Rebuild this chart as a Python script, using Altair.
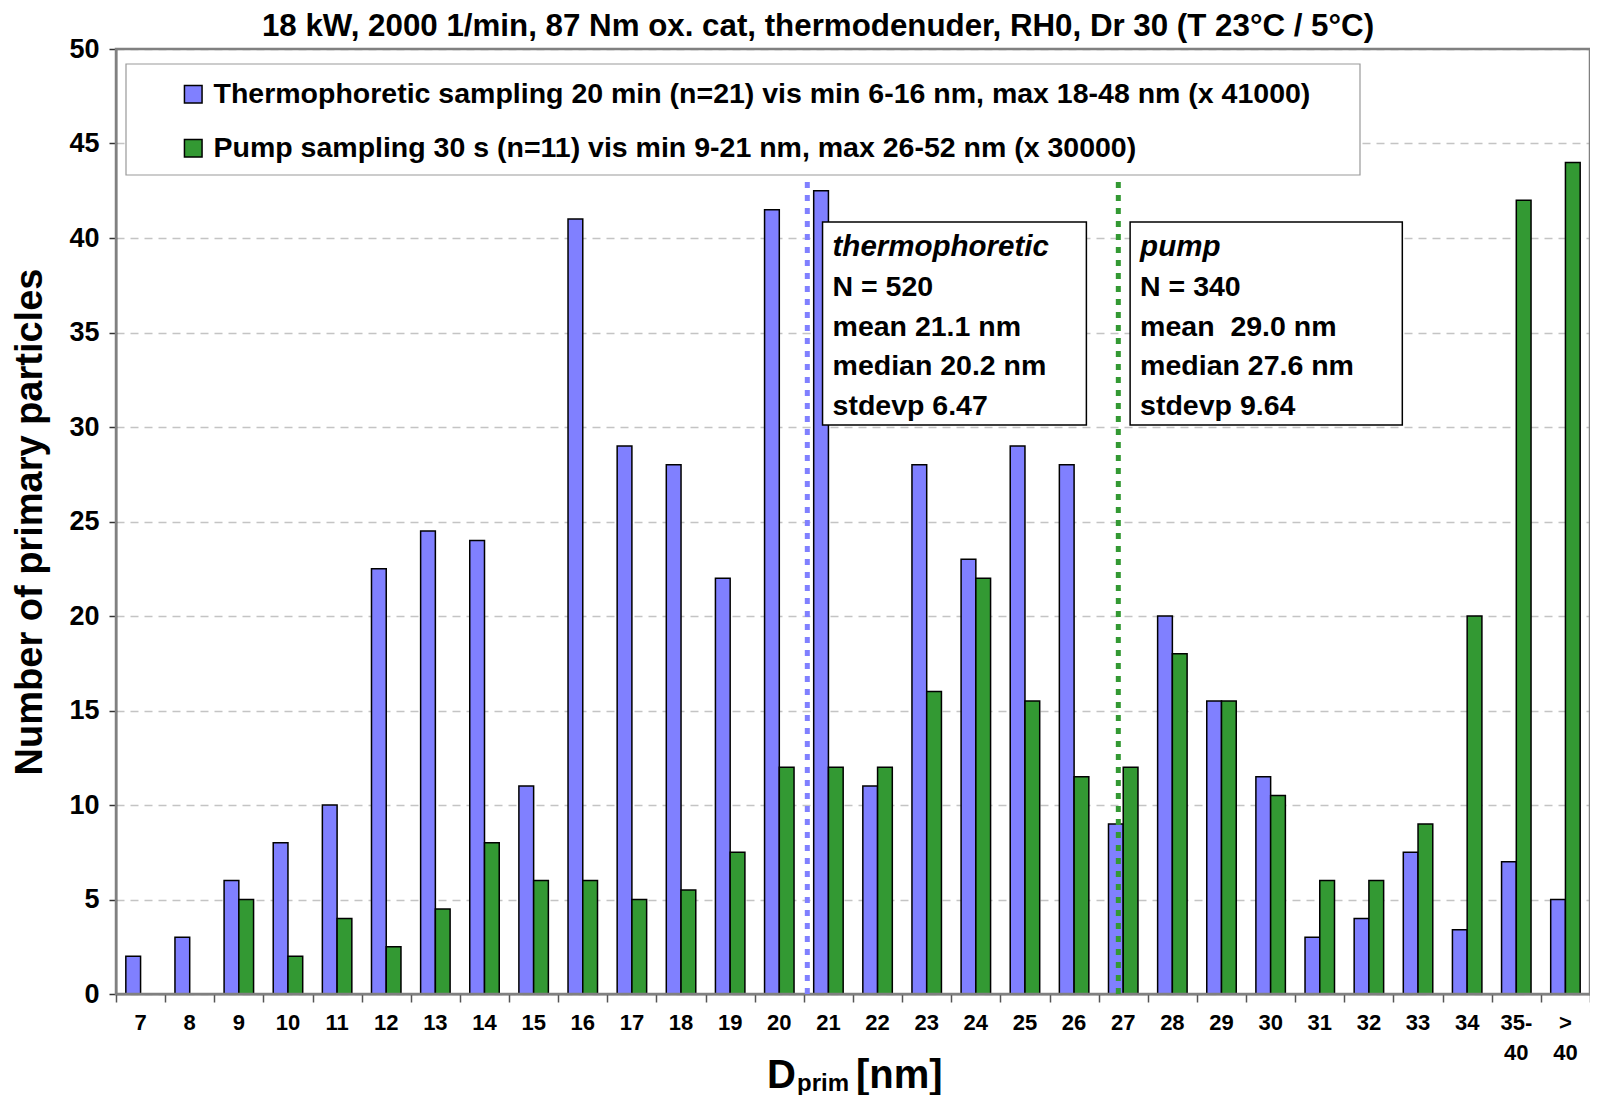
import altair as alt
import pandas as pd

# ---------------- data ----------------
categories = ['7', '8', '9', '10', '11', '12', '13', '14', '15', '16', '17', '18', '19', '20',
              '21', '22', '23', '24', '25', '26', '27', '28', '29', '30', '31', '32', '33', '34',
              '35-40', '>40']
thermo = [2, 3, 6, 8, 10, 22.5, 24.5, 24, 11, 41, 29, 28, 22, 41.5,
          42.5, 11, 28, 23, 29, 28, 9, 20, 15.5, 11.5, 3, 4, 7.5, 3.4,
          7, 5]
pump = [0, 0, 5, 2, 4, 2.5, 4.5, 8, 6, 6, 5, 5.5, 7.5, 12,
        12, 12, 16, 22, 15.5, 11.5, 12, 18, 15.5, 10.5, 6, 6, 9, 20,
        42, 44]
series_names = [
    "Thermophoretic sampling 20 min (n=21) vis min 6-16 nm, max 18-48 nm (x 41000)",
    "Pump sampling 30 s (n=11) vis min 9-21 nm, max 26-52 nm (x 30000)",
]
colors = ['#8080FF', '#339933']

# category edges on a continuous scale (category i spans [7+i, 8+i])
edge_ticks = list(range(7, 38))
line_pos = [21.07, 27.4]
line_top = [43, 43]
box_x = [21.38, 27.64]
box_x2 = [26.75, 33.18]
box_top = [40.85, 40.85]
box_bottom = [30.1, 30.1]
box_heads = ['thermophoretic', 'pump']
box_bodies = [['N = 520', 'mean 21.1 nm', 'median 20.2 nm', 'stdevp 6.47'],
              ['N = 340', 'mean\u00a0 29.0 nm', 'median 27.6 nm', 'stdevp 9.64']]

title_text = "18 kW, 2000 1/min, 87 Nm ox. cat, thermodenuder, RH0, Dr 30 (T 23\u00b0C / 5\u00b0C)"
y_title = "Number of primary particles"

FONT = 'Liberation Sans'
W, H = 1474, 945

rows = []
for i, c in enumerate(categories):
    rows.append({'cat': c, 'series': series_names[0], 'value': thermo[i]})
    rows.append({'cat': c, 'series': series_names[1], 'value': pump[i]})
df = pd.DataFrame(rows)

y_scale = alt.Scale(domain=[0, 50], nice=False, zero=True)
y_axis = alt.Axis(values=list(range(0, 51, 5)), title=y_title,
                  titleFont=FONT, titleFontSize=38, titleFontWeight='bold',
                  titleAngle=-90, titleX=-86, titleY=H / 2, titleBaseline='middle',
                  titleAlign='center', titleColor='black',
                  labelFont=FONT, labelFontSize=27, labelFontWeight='bold', labelColor='black',
                  labelPadding=10, tickSize=7, tickColor='#333333', tickWidth=1.5,
                  domainColor='black', domainWidth=1.5,
                  grid=True, gridDash=[8, 6], gridColor='#c4c4c4', gridWidth=1.5)

label_expr = ("datum.value == '35-40' ? ['35-', '40'] : "
              "(datum.value == '>40' ? ['>', '40'] : datum.label)")

bars = alt.Chart(df).transform_filter('datum.value > 0').mark_bar(
    stroke='black', strokeWidth=1.5
).encode(
    x=alt.X('cat:N', sort=categories,
            scale=alt.Scale(paddingInner=0, paddingOuter=0),
            axis=alt.Axis(title=None, ticks=False, domainColor='#808080', domainWidth=2,
                          labelFont=FONT, labelFontSize=22, labelFontWeight='bold',
                          labelColor='black', labelAngle=0, labelPadding=18,
                          labelLineHeight=30, labelExpr=label_expr, orient='bottom',
                          grid=False)),
    xOffset=alt.XOffset('series:N', sort=series_names,
                        scale=alt.Scale(domain=series_names, paddingOuter=0.6667, paddingInner=0)),
    y=alt.Y('value:Q', scale=y_scale, axis=y_axis),
    color=alt.Color('series:N', sort=series_names,
                    scale=alt.Scale(domain=series_names, range=colors),
                    legend=alt.Legend(orient='none', legendX=63, legendY=31, title=None,
                                      symbolType='square', symbolSize=310,
                                      symbolStrokeColor='black', symbolStrokeWidth=1.5,
                                      labelFont=FONT, labelFontSize=28.5, labelFontWeight='bold',
                                      labelColor='black', labelLimit=0, rowPadding=25,
                                      labelOffset=6, padding=0, direction='vertical')),
)

xq_scale = alt.Scale(domain=[7, 37], nice=False, zero=False)
xq_axis = alt.Axis(values=edge_ticks, labels=False, ticks=True, tickSize=8,
                   tickColor='#555555', tickWidth=1.5, domain=False, grid=False,
                   orient='bottom', title=None)

one = pd.DataFrame({'k': [0]})

frame = alt.Chart(one).mark_rect(fill='white', fillOpacity=0, stroke='#808080',
                                 strokeWidth=2.5).encode(
    x=alt.value(0), x2=alt.value(W), y=alt.value(0), y2=alt.value(H))

df_lines = pd.DataFrame({'pos': line_pos, 'value': [0, 0], 'top': line_top, 'col': colors})
rules = alt.Chart(df_lines).mark_rule(strokeWidth=5, strokeDash=[6, 7]).encode(
    x=alt.X('pos:Q', scale=xq_scale, axis=xq_axis),
    y=alt.Y('value:Q', scale=y_scale, axis=y_axis),
    y2='top:Q',
    stroke=alt.Stroke('col:N', scale=None),
)

df_box = pd.DataFrame({'pos': box_x, 'pos2': box_x2, 'value': box_bottom, 'top': box_top,
                       'head': box_heads, 'body': box_bodies})
boxes = alt.Chart(df_box).mark_rect(fill='white', stroke='black', strokeWidth=1.5).encode(
    x=alt.X('pos:Q', scale=xq_scale, axis=xq_axis),
    x2='pos2:Q',
    y=alt.Y('value:Q', scale=y_scale, axis=y_axis),
    y2='top:Q',
)
heads = alt.Chart(df_box).mark_text(align='left', baseline='middle', dx=10, dy=25,
                                    font=FONT, fontSize=29.5, fontWeight='bold',
                                    fontStyle='italic', color='black').encode(
    x=alt.X('pos:Q', scale=xq_scale, axis=xq_axis),
    y=alt.Y('top:Q', scale=y_scale, axis=y_axis),
    text='head:N',
)
bodies = alt.Chart(df_box).mark_text(align='left', baseline='middle', dx=10, dy=65,
                                     font=FONT, fontSize=28.5, fontWeight='bold',
                                     lineHeight=39.7, color='black').encode(
    x=alt.X('pos:Q', scale=xq_scale, axis=xq_axis),
    y=alt.Y('top:Q', scale=y_scale, axis=y_axis),
    text='body:N',
)

legend_box = alt.Chart(one).mark_rect(fill='white', stroke='#999999', strokeWidth=1.2).encode(
    x=alt.value(10), x2=alt.value(1244), y=alt.value(15), y2=alt.value(126))

title_mark = alt.Chart(one).mark_text(align='center', baseline='alphabetic', font=FONT,
                                      fontSize=31.3, fontWeight='bold', color='black',
                                      text=title_text).encode(
    x=alt.value(702), y=alt.value(-13))

xt_D = alt.Chart(one).mark_text(align='left', baseline='alphabetic', font=FONT, fontSize=40,
                                fontWeight='bold', color='black', text='D').encode(
    x=alt.value(651), y=alt.value(1039))
xt_sub = alt.Chart(one).mark_text(align='left', baseline='alphabetic', font=FONT, fontSize=24,
                                  fontWeight='bold', color='black', text='prim').encode(
    x=alt.value(681), y=alt.value(1042))
xt_nm = alt.Chart(one).mark_text(align='left', baseline='alphabetic', font=FONT, fontSize=40,
                                 fontWeight='bold', color='black', text='[nm]').encode(
    x=alt.value(740), y=alt.value(1039))

overlay = alt.layer(frame, legend_box, rules, boxes, heads, bodies, title_mark,
                    xt_D, xt_sub, xt_nm)

chart = alt.layer(bars, overlay).resolve_scale(x='independent').properties(
    width=W, height=H,
    padding={'left': 108, 'top': 41, 'right': 0, 'bottom': 108},
    autosize=alt.AutoSizeParams(type='none'),
).configure_view(stroke=None).configure(font=FONT)

chart.save("out.html", embed_options={"renderer": "svg", "actions": False})
